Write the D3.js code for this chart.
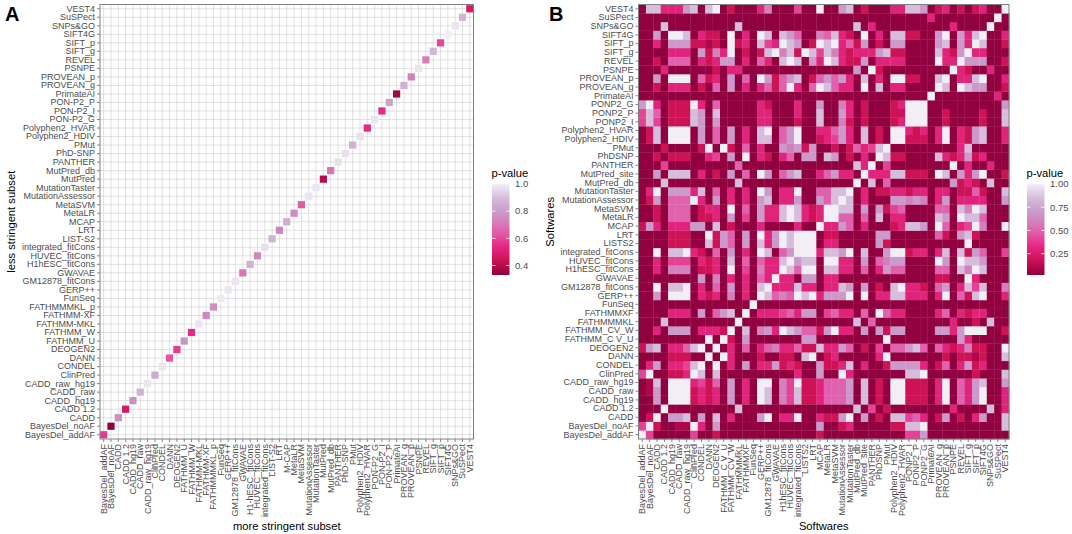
<!DOCTYPE html>
<html><head><meta charset="utf-8">
<script src="https://cdn.jsdelivr.net/npm/d3@7"></script>
<style>
body{margin:0;background:#fff}
svg{display:block}
text{font-family:"Liberation Sans",Arial,Helvetica,sans-serif}
</style>
</head><body>
<svg id="chart" width="1072" height="534"></svg>
<script>
// ---------- Panel A data ----------
const toolsAx = ["BayesDel_addAF","BayesDel_noAF","CADD","CADD 1.2","CADD_hg19","CADD_raw","CADD_raw_hg19","ClinPred","CONDEL","DANN","DEOGEN2","FATHMM_U","FATHMM_W","FATHMM-MKL","FATHMM-XF","FATHMMMKL_p","FunSeq","GERP++","GM12878_fitCons","GWAVAE","H1-hESC_fitCons","HUVEC_fitCons","integrated_fitCons","LIST-S2","LRT","M-CAP","MetaLR","MetaSVM","MutationAssessor","MutationTaster","MutPred","MutPred_db","PANTHER","PhD-SNP","PMut","Polyphen2_HDIV","Polyphen2_HVAR","PON-P2_G","PON-P2_I","PON-P2_P","PrimateAI","PROVEAN_g","PROVEAN_p","PSNPE","REVEL","SIFT_g","SIFT_p","SIFT4G","SNPs&GO","SuSPect","VEST4"];
const toolsAy = ["BayesDel_addAF","BayesDel_noAF","CADD","CADD 1.2","CADD_hg19","CADD_raw","CADD_raw_hg19","ClinPred","CONDEL","DANN","DEOGEN2","FATHMM_U","FATHMM_W","FATHMM-MKL","FATHMM-XF","FATHMMMKL_p","FunSeq","GERP++","GM12878_fitCons","GWAVAE","H1hESC_fitCons","HUVEC_fitCons","integrated_fitCons","LIST-S2","LRT","MCAP","MetaLR","MetaSVM","MutationAssessor","MutationTaster","MutPred","MutPred_db","PANTHER","PhD-SNP","PMut","Polyphen2_HDIV","Polyphen2_HVAR","PON-P2_G","PON-P2_I","PON-P2_P","PrimateAI","PROVEAN_g","PROVEAN_p","PSNPE","REVEL","SIFT_g","SIFT_p","SIFT4G","SNPs&GO","SuSPect","VEST4"];
// p-value of each tool (more stringent vs less stringent subset), same order
const pvalA = [0.58,0.33,0.76,0.47,0.76,0.87,0.98,0.84,0.98,0.63,
               0.58,0.78,0.55,0.98,0.74,0.76,0.99,0.98,0.98,0.70,
               0.86,0.74,0.97,0.87,0.73,0.85,0.75,0.64,0.98,0.98,
               0.40,0.70,0.97,0.97,0.86,0.97,0.55,0.98,0.55,0.82,
               0.37,0.86,0.72,0.98,0.72,0.88,0.60,1.00,0.98,0.87,0.47];
const ticksA = [0.4,0.6,0.8,1.0];

// ---------- Panel B data ----------
const toolsB = ["BayesDel_addAF","BayesDel_noAF","CADD","CADD 1.2","CADD_hg19","CADD_raw","CADD_raw_hg19","ClinPred","CONDEL","DANN","DEOGEN2","FATHMM_C V_U","FATHMM_CV_W","FATHMMMKL","FATHMMXF","FunSeq","GERP++","GM12878_fitCons","GWAVAE","H1hESC_fitCons","HUVEC_fitCons","integrated_fitCons","LISTS2","LRT","MCAP","MetaLR","MetaSVM","MutationAssessor","MutationTaster","MutPred_db","MutPred_site","PANTHER","PhDSNP","PMut","Polyphen2_HDIV","Polyphen2_HVAR","PONP2_I","PONP2_P","PONP2_G","PrimateAI","PROVEAN_g","PROVEAN_p","PSNPE","REVEL","SIFT_g","SIFT_p","SIFT4G","SNPs&GO","SuSPect","VEST4"];
// p-value level read per cell; digit -> p-value
const levelValues = [0.02,0.10,0.18,0.30,0.40,0.50,0.60,0.70,0.85,1.00];
// row k holds the pairs of tool k with tools 0..k-1 (symmetric matrix)
const triB = [
"",
"4",
"02",
"000",
"0070",
"01709",
"018099",
"4900223",
"03703348",
"000022200",
"2780335890",
"00000000090",
"003077703332",
"0008000000000",
"00003330705780",
"000000000000000",
"0070999032306030",
"00908890305070308",
"000000007060303053",
"0030666022309040633",
"00304440323080505338",
"009088932050703098057",
"0000222008275070837989",
"00002220092750709379899",
"273033377080200030000300",
"0020555022307040733898323",
"00205550233090507338983239",
"027055593070303078033700758",
"0390777380503030970339005588",
"00080000000008000000000000000",
"007088803020705097057800357330",
"0004000000000500000000000000083",
"00202220034070903203507708702030",
"000200002909205030076727002025348",
"0280999070507030880579002347308020",
"02809990705070308905790033573080209",
"484022287070000033000200800620200023",
"4850222870800000330003008007302000229",
"79302229305000003200030070063020002399",
"000000000000000000000000000000000000000",
"0020333020507030352593059853309080330000",
"00709990523070509725780257573080309922008",
"000300000020330000000000000007092000000000",
"0020555032377030530898073983227033330000933",
"00003330726390202896829848632333782200008327",
"003077722120923084398702989352702077000078073",
"0070998032209030980875006583209030882200790738",
"00080000000008000000000000000803000000000030000",
"000000000000000000000000000000000000000300000000",
"0883337808902000360004009007802000338870230202300"
];
const ticksB = [0.25,0.50,0.75,1.00];

const paletteStops = ["#91003F","#CE1256","#E7298A","#DF65B0","#C994C7","#D4B9DA","#F1EEF6"];

function makeColor(lo, hi){
  return d3.scaleLinear()
    .domain(d3.range(paletteStops.length).map(k => lo + k*(hi-lo)/(paletteStops.length-1)))
    .range(paletteStops)
    .interpolate(d3.interpolateLab);
}

const svg = d3.select("#chart");
const defs = svg.append("defs");
const TXT = "#4D4D4D", TICK = "#333333", BORDER = "#808080";
const TITLE_SIZE = "11.2px";

function styleAxis(g){
  g.select(".domain").remove();
  g.selectAll(".tick line").attr("stroke", TICK).attr("stroke-width", 0.6);
  g.selectAll(".tick text").attr("fill", TXT).attr("font-size", "9px")
    .attr("font-family", '"Liberation Sans",Arial,sans-serif');
}

function drawAxes(x, y, x0, x1, y0, y1){
  const gy = svg.append("g").attr("transform", `translate(${x0},0)`)
    .call(d3.axisLeft(y).tickSize(3).tickPadding(2));
  styleAxis(gy);
  const gx = svg.append("g").attr("transform", `translate(0,${y1})`)
    .call(d3.axisBottom(x).tickSize(3).tickPadding(2));
  styleAxis(gx);
  gx.selectAll(".tick text")
    .attr("transform", "rotate(-90)")
    .attr("text-anchor", "end")
    .attr("x", -5).attr("y", 0).attr("dy", "0.33em");
  svg.append("rect").attr("x", x0).attr("y", y0).attr("width", x1-x0).attr("height", y1-y0)
    .attr("fill", "none").attr("stroke", BORDER).attr("stroke-width", 1);
}

function drawLegend(id, bx, ticks, fmt, lo, hi, color){
  const top = 184, bot = 275, w = 17.5;
  const grad = defs.append("linearGradient").attr("id", id)
    .attr("x1", 0).attr("y1", 1).attr("x2", 0).attr("y2", 0);
  d3.range(0, 1.0001, 0.05).forEach(t => {
    grad.append("stop").attr("offset", t).attr("stop-color", color(lo + t*(hi-lo)));
  });
  svg.append("text").attr("x", bx - 0.5).attr("y", 177).attr("font-size", TITLE_SIZE)
    .attr("fill", "#000").text("p-value");
  svg.append("rect").attr("x", bx).attr("y", top).attr("width", w).attr("height", bot-top)
    .attr("fill", `url(#${id})`);
  const ys = d3.scaleLinear().domain([lo, hi]).range([bot, top]);
  ticks.forEach(v => {
    const yy = ys(v);
    svg.append("line").attr("x1", bx).attr("x2", bx + 3.5).attr("y1", yy).attr("y2", yy)
      .attr("stroke", "#fff").attr("stroke-width", 0.8);
    svg.append("line").attr("x1", bx + w - 3.5).attr("x2", bx + w).attr("y1", yy).attr("y2", yy)
      .attr("stroke", "#fff").attr("stroke-width", 0.8);
    svg.append("text").attr("x", bx + w + 5.5).attr("y", yy).attr("dy", "0.35em")
      .attr("font-size", "9.5px").attr("fill", TXT).text(fmt(v));
  });
}

// ---------- Panel A ----------
(function(){
  const x0 = 100, x1 = 473.5, y0 = 4.5, y1 = 439;
  const x = d3.scaleBand().domain(toolsAx).range([x0, x1]);
  const y = d3.scaleBand().domain(toolsAy).range([y1, y0]);
  const lo = d3.min(pvalA), hi = d3.max(pvalA);
  const color = makeColor(lo, hi);
  const bw = x.bandwidth(), bh = y.bandwidth();
  const grid = svg.append("g");
  toolsAx.forEach(t => grid.append("line").attr("x1", x(t)+bw/2).attr("x2", x(t)+bw/2)
    .attr("y1", y0).attr("y2", y1).attr("stroke", "#cccccc").attr("stroke-width", 0.6));
  toolsAy.forEach(t => grid.append("line").attr("y1", y(t)+bh/2).attr("y2", y(t)+bh/2)
    .attr("x1", x0).attr("x2", x1).attr("stroke", "#cccccc").attr("stroke-width", 0.6));
  const s = 7.2;
  svg.append("g").selectAll("rect").data(pvalA).join("rect")
    .attr("x", (d,i) => x(toolsAx[i]) + bw/2 - s/2)
    .attr("y", (d,i) => y(toolsAy[i]) + bh/2 - s/2)
    .attr("width", s).attr("height", s)
    .attr("fill", d => color(d));
  drawAxes(x, y, x0, x1, y0, y1);
  svg.append("text").attr("x", (x0+x1)/2).attr("y", 530).attr("text-anchor", "middle")
    .attr("font-size", TITLE_SIZE).attr("fill", "#000").text("more stringent subset");
  svg.append("text").attr("transform", `translate(15,${(y0+y1)/2}) rotate(-90)`)
    .attr("text-anchor", "middle").attr("font-size", TITLE_SIZE).attr("fill", "#000")
    .text("less stringent subset");
  svg.append("text").attr("x", 5).attr("y", 21).attr("font-size", "20px")
    .attr("font-weight", "bold").attr("fill", "#000").text("A");
  drawLegend("gradA", 492, ticksA, d3.format(".1f"), lo, hi, color);
})();

// ---------- Panel B ----------
(function(){
  const x0 = 638.5, x1 = 1009, y0 = 4.5, y1 = 439;
  const x = d3.scaleBand().domain(toolsB).range([x0, x1]);
  const y = d3.scaleBand().domain(toolsB).range([y1, y0]);
  const val = (i, j) => {
    if (i === j) return 1.0;
    const a = Math.max(i, j), b = Math.min(i, j);
    const ch = (triB[a] || "")[b] || "0";
    return levelValues[+ch];
  };
  const cells = [];
  toolsB.forEach((ti, i) => toolsB.forEach((tj, j) => cells.push({r: ti, c: tj, v: val(i, j)})));
  const lo = d3.min(cells, d => d.v), hi = d3.max(cells, d => d.v);
  const color = makeColor(lo, hi);
  svg.append("g").selectAll("rect").data(cells).join("rect")
    .attr("x", d => x(d.c)).attr("y", d => y(d.r))
    .attr("width", x.bandwidth() + 0.3).attr("height", y.bandwidth() + 0.3)
    .attr("fill", d => color(d.v));
  drawAxes(x, y, x0, x1, y0, y1);
  svg.append("text").attr("x", (x0+x1)/2).attr("y", 530).attr("text-anchor", "middle")
    .attr("font-size", TITLE_SIZE).attr("fill", "#000").text("Softwares");
  svg.append("text").attr("transform", `translate(554,${(y0+y1)/2}) rotate(-90)`)
    .attr("text-anchor", "middle").attr("font-size", TITLE_SIZE).attr("fill", "#000")
    .text("Softwares");
  svg.append("text").attr("x", 549).attr("y", 21).attr("font-size", "20px")
    .attr("font-weight", "bold").attr("fill", "#000").text("B");
  drawLegend("gradB", 1027, ticksB, d3.format(".2f"), lo, hi, color);
})();
</script>
</body></html>
